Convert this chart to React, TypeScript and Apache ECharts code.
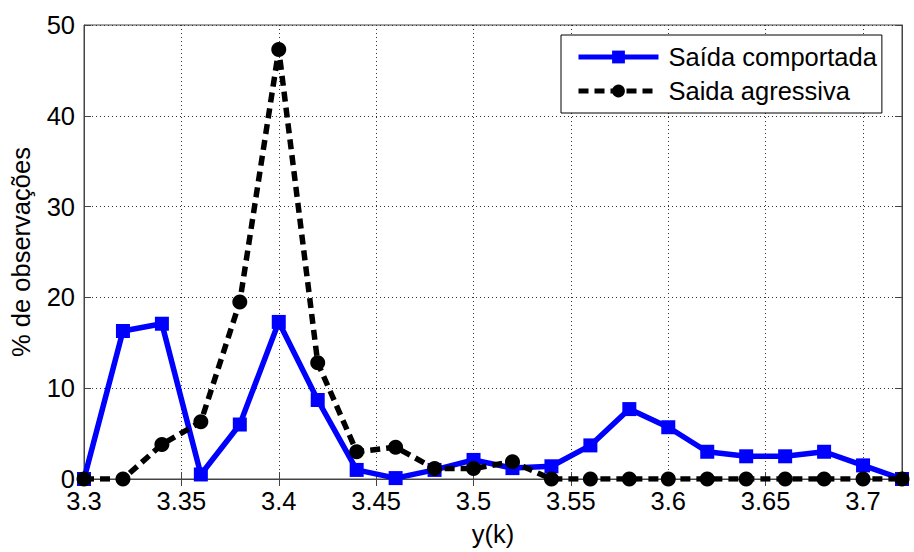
import React, { useEffect, useRef } from "react";
import * as echarts from "echarts";

const xValues = [3.30, 3.32, 3.34, 3.36, 3.38, 3.40, 3.42, 3.44, 3.46, 3.48, 3.50, 3.52, 3.54, 3.56, 3.58, 3.60, 3.62, 3.64, 3.66, 3.68, 3.70, 3.72];
const comportada = [0, 16.3, 17.1, 0.5, 6.0, 17.3, 8.7, 1.0, 0.1, 1.0, 2.1, 1.2, 1.4, 3.7, 7.7, 5.7, 3.0, 2.5, 2.5, 3.0, 1.5, 0];
const agressiva = [0, 0, 3.8, 6.3, 19.5, 47.3, 12.8, 3.0, 3.5, 1.15, 1.15, 1.9, 0, 0, 0, 0, 0, 0, 0, 0, 0, 0];
const seriesNames = ["Saída comportada", "Saida agressiva"];
const xLabel = "y(k)";
const yLabel = "% de observações";

const FONT = "Liberation Sans, Arial, sans-serif";
const FS = 25.5;

export default function App() {
  const ref = useRef<HTMLDivElement>(null);
  useEffect(() => {
    if (!ref.current) return;
    const chart = echarts.init(ref.current, null, { renderer: "svg" });
    const pair = (ys: number[]) => xValues.map((x, i) => [x, ys[i]]);
    const grid = { left: 84, top: 25, right: 12, bottom: 70 };
    const splitLine = { show: true, lineStyle: { color: "#333", type: [1, 3] as any, width: 1 } };
    const tick = { show: true, inside: true, length: 7, lineStyle: { color: "#444" } };
    chart.setOption({
      animation: false,
      backgroundColor: "#fff",
      textStyle: { fontFamily: FONT },
      grid: { ...grid, show: true, borderColor: "#444", borderWidth: 1 },
      xAxis: [
        {
          type: "value", min: 3.3, max: 3.72, interval: 0.05,
          name: xLabel, nameLocation: "middle", nameGap: 42,
          nameTextStyle: { fontSize: FS, color: "#000", fontFamily: FONT },
          axisLine: { show: true, lineStyle: { color: "#444" } },
          axisTick: tick,
          axisLabel: { fontSize: FS, color: "#000", fontFamily: FONT, margin: 9, showMaxLabel: false,
            formatter: (v: number) => String(parseFloat(v.toFixed(2))) },
          splitLine,
        },
        {
          type: "value", min: 3.3, max: 3.72, interval: 0.05, position: "top",
          axisLine: { show: true, lineStyle: { color: "#444" } },
          axisTick: tick,
          axisLabel: { show: false }, splitLine: { show: false },
        },
      ],
      yAxis: [
        {
          type: "value", min: 0, max: 50, interval: 10,
          name: yLabel, nameLocation: "middle", nameGap: 50,
          nameTextStyle: { fontSize: FS, color: "#000", fontFamily: FONT },
          axisLine: { show: true, lineStyle: { color: "#444" } },
          axisTick: tick,
          axisLabel: { fontSize: FS, color: "#000", fontFamily: FONT, margin: 9 },
          splitLine,
        },
        {
          type: "value", min: 0, max: 50, interval: 10, position: "right",
          axisLine: { show: true, lineStyle: { color: "#444" } },
          axisTick: tick,
          axisLabel: { show: false }, splitLine: { show: false },
        },
      ],
      legend: {
        show: true,
        left: 561, top: 35,
        orient: "vertical",
        backgroundColor: "#fff",
        borderColor: "#000", borderWidth: 1, borderRadius: 0,
        padding: [9, 5, 9, 15],
        itemGap: 8,
        itemWidth: 80, itemHeight: 16,
        lineStyle: { width: 5 },
        textStyle: { fontSize: FS, color: "#000", fontFamily: FONT, padding: [0, 0, 0, 5] },
        data: seriesNames,
      },
      series: [
        {
          name: seriesNames[0], type: "line", data: pair(comportada),
          xAxisIndex: 0, yAxisIndex: 0,
          symbol: "rect", symbolSize: 14,
          lineStyle: { color: "#0000ff", width: 5.5 },
          itemStyle: { color: "#0000ff" },
          z: 3,
        },
        {
          name: seriesNames[1], type: "line", data: pair(agressiva),
          xAxisIndex: 0, yAxisIndex: 0,
          symbol: "circle", symbolSize: 15,
          lineStyle: { color: "#000", width: 5.5, type: [10, 6] as any },
          itemStyle: { color: "#000" },
          z: 4,
        },
      ],
    });
    return () => chart.dispose();
  }, []);
  return <div ref={ref} style={{ width: 914, height: 552, position: "absolute", left: 0, top: 0 }} />;
}
